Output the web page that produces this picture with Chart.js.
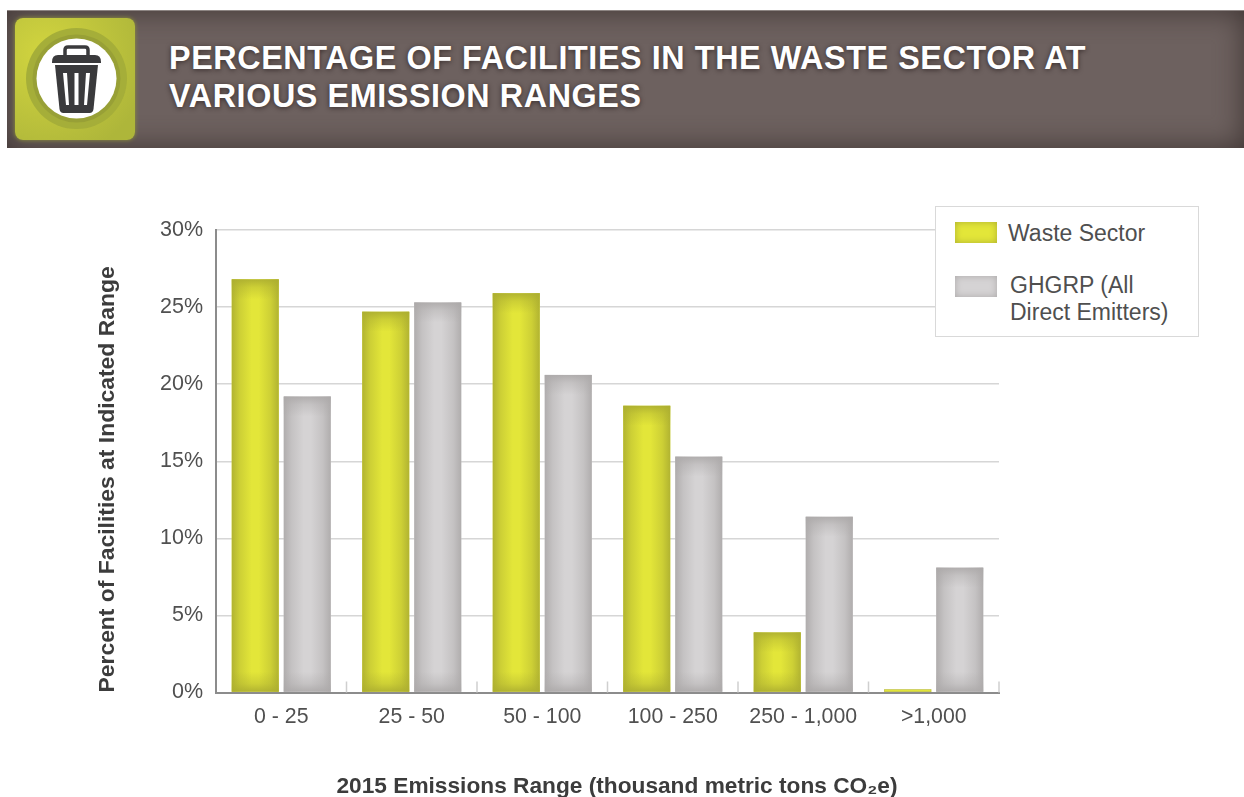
<!DOCTYPE html>
<html>
<head>
<meta charset="utf-8">
<title>Percentage of facilities in the waste sector</title>
<script src="https://cdn.jsdelivr.net/npm/chart.js@4"></script>
<style>
  html, body { margin: 0; padding: 0; background: #fff; overflow: hidden; }
  #page { position: relative; width: 1244px; height: 797px; font-family: "Liberation Sans", Arial, sans-serif; }
  #chartBox { position: absolute; left: 0; top: 0; width: 1244px; height: 797px; }
  #banner {
    position: absolute; left: 7px; top: 10px; width: 1237px; height: 138px;
    background: #6d615f; box-shadow: inset 0 0 28px #3f3533; border-top: 1px solid #8d8583; box-sizing: border-box;
  }
  #iconTile {
    position: absolute; left: 15px; top: 18px; width: 120px; height: 122px; border-radius: 8px;
    background: radial-gradient(circle at 25% 30%, #d2d53f, #aeb63a 85%);
    box-shadow: 0 0 4px #8f9436;
  }
  #icon { position: absolute; left: 15px; top: 18px; width: 120px; height: 122px; }
  #bannerTitle {
    position: absolute; left: 169px; top: 39px; margin: 0; color: #fff; font-size: 32.3px; font-weight: bold;
    line-height: 38px; text-shadow: 0 1px 5px rgba(30,20,20,.7); white-space: nowrap; letter-spacing: .6px;
  }
  #legend {
    position: absolute; left: 935px; top: 206px; width: 264px; height: 131px; box-sizing: border-box;
    background: #fff; border: 1.5px solid #d9d9d9; color: #4f4f4f; font-size: 23px; line-height: 27px;
  }
  .swatch { position: absolute; left: 19px; width: 42px; height: 21px; }
  .label { position: absolute; white-space: pre; }
</style>
</head>
<body>
<div id="page">
  <div id="chartBox"><canvas id="wasteChart" width="1244" height="797"></canvas></div>
  <div id="banner"></div>
  <div id="iconTile"></div>
  <svg id="icon" viewBox="0 0 120 122">
    <circle cx="61.5" cy="60.5" r="50.5" fill="#a5ae39"/>
    <circle cx="61.5" cy="60.5" r="44" fill="#98a036"/>
    <circle cx="61.5" cy="60.5" r="40" fill="#fff"/>
    <path d="M50 37 v-5 q0 -3 3 -3 h17 q3 0 3 3 v5" fill="none" stroke="#3a3a3c" stroke-width="3.5"/>
    <path d="M37 44 q0 -7 6 -7 h37 q6 0 6 7 v1 h-49 z" fill="#3a3a3c"/>
    <path d="M40 47 h43 l-4.5 44 q-.5 4 -4 4 h-26 q-3.5 0 -4 -4 z" fill="#3a3a3c"/>
    <path d="M48 55 h4 l2 32 h-3 z M59.5 55 h4 v32 h-4 z M71 55 h4 l-3 32 h-3 z" fill="#fff"/>
  </svg>
  <h1 id="bannerTitle">PERCENTAGE OF FACILITIES IN THE WASTE SECTOR AT<br>VARIOUS EMISSION RANGES</h1>
  <div id="legend"></div>
</div>
<script>
// donnees
const emissionRanges = ['0 - 25', '25 - 50', '50 - 100', '100 - 250', '250 - 1,000', '>1,000'];
const wasteSector = [26.8, 24.7, 25.9, 18.6, 3.9, 0.2];
const ghgrpAll = [19.2, 25.3, 20.6, 15.3, 11.4, 8.1];

const yTitle = 'Percent of Facilities at Indicated Range';
const xTitle = '2015 Emissions Range (thousand metric tons CO₂e)';

const fontFamily = '"Liberation Sans", Arial, sans-serif';
const textColor = '#505050';
const titleColor = '#3c3c3c';

const seriesStyle = {
  waste: { fill: '#e3e639', edge: '172,174,48' },
  ghgrp: { fill: '#d5d3d4', edge: '172,169,169' }
};

// Ombre interieure sur les barres
function insetShadow(ctx, x, y, w, h, edge, depth) {
  const d = Math.min(depth, w / 2, h / 2);
  const sides = [
    [x, y, x + d, y, x, y, d, h],
    [x + w, y, x + w - d, y, x + w - d, y, d, h],
    [x, y, x, y + d, x, y, w, d],
    [x, y + h, x, y + h - d, x, y + h - d, w, d]
  ];
  sides.forEach(s => {
    const g = ctx.createLinearGradient(s[0], s[1], s[2], s[3]);
    g.addColorStop(0, 'rgba(' + edge + ',0.9)');
    g.addColorStop(0.4, 'rgba(' + edge + ',0.4)');
    g.addColorStop(1, 'rgba(' + edge + ',0)');
    ctx.fillStyle = g;
    ctx.fillRect(s[4], s[5], s[6], s[7]);
  });
}

const barShading = {
  id: 'barShading',
  afterDatasetDraw(chart, args) {
    const edge = chart.data.datasets[args.index].edgeColor;
    const ctx = chart.ctx;
    ctx.save();
    chart.getDatasetMeta(args.index).data.forEach(bar => {
      insetShadow(ctx, bar.x - bar.width / 2, bar.y, bar.width, bar.base - bar.y, edge, 20);
    });
    ctx.restore();
  }
};

// Petits traits entre les categories, vers le haut, et titre de l'axe x
const axisExtras = {
  id: 'axisExtras',
  afterDraw(chart) {
    const x = chart.scales.x;
    const ctx = chart.ctx;
    const step = x.getPixelForValue(1) - x.getPixelForValue(0);
    ctx.save();
    ctx.strokeStyle = '#cfcfcf';
    ctx.lineWidth = 1.5;
    emissionRanges.forEach((r, i) => {
      const px = x.getPixelForValue(i) + step / 2;
      ctx.beginPath();
      ctx.moveTo(px, x.top);
      ctx.lineTo(px, x.top - 11);
      ctx.stroke();
    });
    ctx.fillStyle = titleColor;
    ctx.font = 'bold 22.7px ' + fontFamily;
    ctx.textAlign = 'center';
    ctx.textBaseline = 'middle';
    ctx.fillText(xTitle, (x.left + x.right) / 2 + 9.5, 787);
    ctx.restore();
  }
};

const chart = new Chart(document.getElementById('wasteChart'), {
  type: 'bar',
  data: {
    labels: emissionRanges,
    datasets: [
      {
        label: 'Waste Sector',
        data: wasteSector,
        backgroundColor: seriesStyle.waste.fill,
        edgeColor: seriesStyle.waste.edge
      },
      {
        label: 'GHGRP (All\nDirect Emitters)',
        data: ghgrpAll,
        backgroundColor: seriesStyle.ghgrp.fill,
        edgeColor: seriesStyle.ghgrp.edge
      }
    ]
  },
  options: {
    responsive: false,
    animation: false,
    categoryPercentage: 0.797,
    barPercentage: 0.904,
    layout: { padding: { top: 230, right: 245, left: 0, bottom: 0 } },
    plugins: {
      legend: { display: false },
      tooltip: { enabled: false }
    },
    scales: {
      x: {
        afterFit: scale => { scale.height = 104.5; },
        grid: { display: false },
        border: { color: '#8c8c8c', width: 2 },
        ticks: { color: textColor, font: { family: fontFamily, size: 21.3 }, padding: 4, maxRotation: 0 }
      },
      y: {
        min: 0,
        max: 30,
        afterFit: scale => { scale.width = 216; },
        grid: { color: '#d6d6d6', lineWidth: 1.5, drawTicks: false },
        border: { color: '#8c8c8c', width: 2 },
        ticks: {
          stepSize: 5,
          padding: 13,
          color: textColor,
          font: { family: fontFamily, size: 21.5 },
          callback: v => v + '%'
        },
        title: {
          display: true,
          text: yTitle,
          align: 'start',
          color: titleColor,
          font: { family: fontFamily, size: 22.9, weight: 'bold' },
          padding: { top: 94, bottom: 0 }
        }
      }
    }
  },
  plugins: [barShading, axisExtras]
});

// Legende dans un cadre a droite
const legend = document.getElementById('legend');
const legendRows = [
  { top: 14.5, textLeft: 72, textTop: 13 },
  { top: 68.5, textLeft: 74, textTop: 65 }
];
chart.data.datasets.forEach((ds, i) => {
  const swatch = document.createElement('div');
  swatch.className = 'swatch';
  swatch.style.top = legendRows[i].top + 'px';
  swatch.style.background = ds.backgroundColor;
  swatch.style.boxShadow = 'inset 0 0 7px rgb(' + ds.edgeColor + ')';
  legend.appendChild(swatch);
  const label = document.createElement('div');
  label.className = 'label';
  label.style.left = legendRows[i].textLeft + 'px';
  label.style.top = legendRows[i].textTop + 'px';
  label.textContent = ds.label;
  legend.appendChild(label);
});
</script>
</body>
</html>
